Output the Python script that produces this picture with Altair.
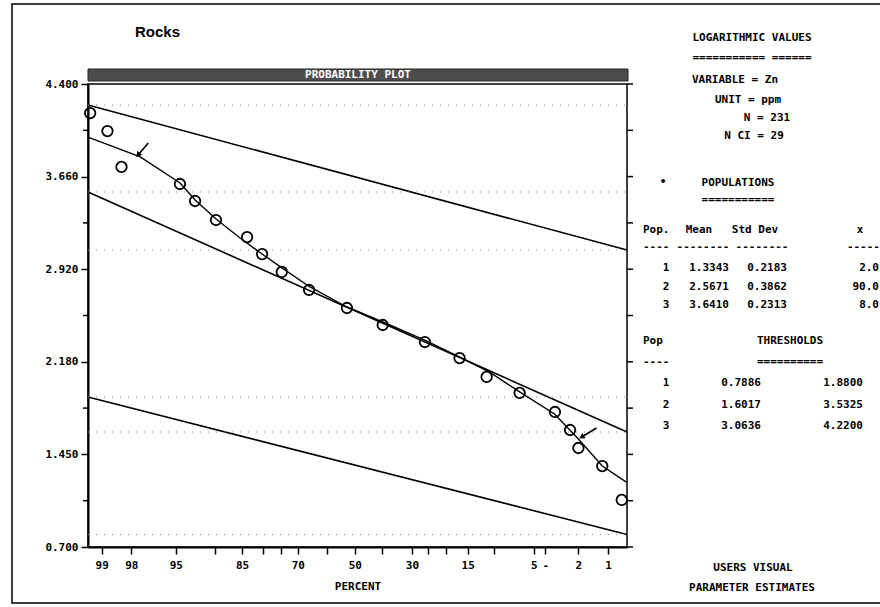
import altair as alt
import pandas as pd
from statistics import NormalDist

# ---------------- data ----------------
title_text = "Rocks"
header_text = "PROBABILITY PLOT"
x_title = "PERCENT"

# plotted sample points: cumulative percent, log value
point_pct = [99.25, 98.85, 98.40, 94.6, 92.9, 89.9, 83.9, 80.3, 74.9, 66.3, 52.9,
             39.9, 26.0, 16.8, 11.3, 6.5, 3.3, 2.4, 2.0, 1.15, 0.71]
point_val = [4.168, 4.024, 3.737, 3.601, 3.465, 3.313, 3.177, 3.041, 2.898, 2.754, 2.610,
             2.474, 2.338, 2.210, 2.059, 1.931, 1.779, 1.635, 1.491, 1.347, 1.076]

# fitted mixture curve
curve_pct = [99.29, 97.57, 94.59, 92.89, 89.89, 85.43, 80.32, 74.86, 66.02, 52.91,
             39.86, 26.04, 16.78, 10.77, 6.50, 3.33, 2.04, 1.15, 0.63]
curve_val = [3.976, 3.817, 3.609, 3.473, 3.321, 3.169, 3.041, 2.930, 2.778, 2.618,
             2.498, 2.354, 2.218, 2.098, 1.939, 1.763, 1.571, 1.347, 1.219]

# straight population lines (end points)
line_end_pct = [99.29, 0.62]
pop1_line = [1.899, 0.800]
pop2_line = [3.537, 1.619]
pop3_line = [4.232, 3.073]

# arrows marking thresholds
arrow_tail_pct = [97.12, 1.32]
arrow_tail_val = [3.929, 1.651]
arrow_head_pct = [97.68, 1.86]
arrow_head_val = [3.833, 1.579]

# axes
y_ticks = [0.70, 1.44, 2.18, 2.92, 3.66, 4.40]
y_labels = ["0.700", "1.450", "2.180", "2.920", "3.660", "4.400"]
y_minor_ticks = [1.07, 1.81, 2.55, 3.29, 4.03]
x_tick_pct = [99, 98, 95, 90, 85, 80, 75, 70, 60, 50, 40, 30, 25, 20, 15, 10, 5, 4, 2, 1]
x_label_pct = [99, 98, 95, 85, 70, 50, 30, 15, 5, 4, 2, 1]
x_label_text = ["99", "98", "95", "85", "70", "50", "30", "15", "5", "-", "2", "1"]
x_domain_pct = [99.29, 0.62]
y_domain = [0.70, 4.40]

# side panel
info_lines = ["LOGARITHMIC VALUES", "=========== ======", "VARIABLE = Zn", "UNIT = ppm",
              "N = 231", "N CI =  29", "POPULATIONS", "==========="]
pop_ids = ["1", "2", "3"]
pop_mean = ["1.3343", "2.5671", "3.6410"]
pop_sd = ["0.2183", "0.3862", "0.2313"]
pop_share = ["2.0", "90.0", "8.0"]
pop_header = ["Pop.", "Mean", "Std Dev", "x"]
pop_rule = ["----", "--------", "--------", "-----"]
thr_header = ["Pop", "THRESHOLDS"]
thr_rule = ["----", "=========="]
thr_low = ["0.7886", "1.6017", "3.0636"]
thr_high = ["1.8800", "3.5325", "4.2200"]
footer_lines = ["USERS VISUAL", "PARAMETER ESTIMATES"]

# ---------------- layout ----------------
W, H = 539, 463
PL, PT = 88, 84
MONO = "DejaVu Sans Mono"

nd = NormalDist()


def probit(p):
    return nd.inv_cdf(1 - p / 100.0)


x_scale = alt.Scale(domain=[probit(x_domain_pct[0]), probit(x_domain_pct[1])], nice=False, zero=False)
y_scale = alt.Scale(domain=y_domain, nice=False, zero=False)


def label_expr(vals, texts, tol):
    parts = [f"abs(datum.value - ({v:.6f})) < {tol} ? '{t}'" for v, t in zip(vals, texts)]
    return " : ".join(parts) + " : ''"


x_axis = alt.Axis(values=[probit(p) for p in x_tick_pct], tickCount=200,
                  labelExpr=label_expr([probit(p) for p in x_label_pct], x_label_text, 1e-4),
                  title=x_title, tickSize=7, tickWidth=1.5, domainWidth=2, domainColor="black",
                  tickColor="black", labelFont=MONO, labelFontWeight="bold", labelFontSize=11,
                  labelPadding=5, titleFont=MONO, titleFontWeight="bold", titleFontSize=11,
                  titlePadding=10, grid=False, labelColor="black", titleColor="black",
                  labelFlush=False, labelOverlap=False)
y_axis = alt.Axis(values=y_ticks, tickCount=200, labelExpr=label_expr(y_ticks, y_labels, 1e-4),
                  title=None, tickSize=7, tickWidth=1.5, domainWidth=2, domainColor="black",
                  tickColor="black", labelFont=MONO, labelFontWeight="bold", labelFontSize=11,
                  labelPadding=3, grid=False, labelColor="black", labelFlush=False,
                  labelOverlap=False)


def X(ax=None):
    return alt.X("z:Q", scale=x_scale, axis=ax) if ax is not None else alt.X("z:Q", scale=x_scale)


def Y(ax=None, field="val"):
    if ax is not None:
        return alt.Y(f"{field}:Q", scale=y_scale, axis=ax)
    return alt.Y(f"{field}:Q", scale=y_scale)


zcalc = "quantileNormal(1 - datum.pct / 100)"

one = pd.DataFrame({"k": [0]})

# frame and header bar
frame = alt.Chart(one).mark_rect(fill="white", fillOpacity=0, stroke="black", strokeWidth=1.5).encode(
    x=alt.value(-76), x2=alt.value(900), y=alt.value(-80), y2=alt.value(519))
bar = alt.Chart(one).mark_rect(fill="#4d4d4d", stroke="#222").encode(
    x=alt.value(0), x2=alt.value(540), y=alt.value(-15), y2=alt.value(-3))
bar_text = alt.Chart(pd.DataFrame({"t": [header_text]})).mark_text(
    font=MONO, fontWeight="bold", fontSize=11, color="white", align="center", baseline="middle").encode(
    text="t:N", x=alt.value(270), y=alt.value(-9))
title = alt.Chart(pd.DataFrame({"t": [title_text]})).mark_text(
    font="Liberation Sans", fontWeight="bold", fontSize=15, color="black", align="left",
    baseline="middle").encode(text="t:N", x=alt.value(47), y=alt.value(-52))

# population lines (carry the axes)
pops = pd.DataFrame({
    "pop": ["1", "1", "2", "2", "3", "3"],
    "pct": line_end_pct * 3,
    "val": pop1_line + pop2_line + pop3_line,
})
pop_lines = alt.Chart(pops).transform_calculate(z=zcalc).mark_line(
    color="black", strokeWidth=1.6).encode(x=X(x_axis), y=Y(y_axis), detail="pop:N")

# dotted guide levels at line end points
levels = pd.DataFrame({"val": pop1_line + pop2_line + pop3_line})
dots = alt.Chart(levels).mark_rule(color="#888", strokeDash=[1, 7], strokeWidth=1).encode(
    y=Y(), x=alt.value(0), x2=alt.value(W))

curve = alt.Chart(pd.DataFrame({"pct": curve_pct, "val": curve_val})).transform_calculate(
    z=zcalc).mark_line(color="black", strokeWidth=1.4).encode(x=X(), y=Y())

pts = alt.Chart(pd.DataFrame({"pct": point_pct, "val": point_val})).transform_calculate(
    z=zcalc).mark_point(shape="circle", size=110, filled=False, color="black", strokeWidth=1.8,
                        opacity=1).encode(x=X(), y=Y())

arr = pd.DataFrame({"pct": arrow_tail_pct, "val": arrow_tail_val,
                    "pct2": arrow_head_pct, "val2": arrow_head_val, "ang": [220, 239]})
arrow_lines = alt.Chart(arr).transform_calculate(
    z=zcalc, z2="quantileNormal(1 - datum.pct2 / 100)").mark_rule(
    color="black", strokeWidth=1.6).encode(x=X(), y=Y(), x2="z2:Q", y2="val2:Q")
arrow_heads = alt.Chart(arr).transform_calculate(
    z="quantileNormal(1 - datum.pct2 / 100)").mark_point(
    shape="triangle-up", size=40, filled=True, color="black", opacity=1).encode(
    x=X(), y=Y(field="val2"), angle=alt.Angle("ang:Q", scale=None))

# minor ticks (left) and right-hand axis ticks
left_minor = alt.Chart(pd.DataFrame({"val": y_minor_ticks})).mark_rule(
    color="black", strokeWidth=1.5).encode(y=Y(), x=alt.value(-5), x2=alt.value(0))
right_ticks = alt.Chart(pd.DataFrame({"val": y_ticks + y_minor_ticks})).mark_rule(
    color="black", strokeWidth=1.5).encode(y=Y(), x=alt.value(W), x2=alt.value(W + 6))

# ---------------- side panel text ----------------
rows = []
info_pos = [(752, 38), (752, 58), (735, 80), (748, 100), (767, 118), (754, 136), (738, 183), (738, 200)]
for t, (cx, cy) in zip(info_lines, info_pos):
    rows.append((t, cx, cy, "center"))
rows.append(("\u2022", 663, 182, "center"))
for t, (cx, al) in zip(pop_header, [(643, "left"), (699, "center"), (755, "center"), (860, "center")]):
    rows.append((t, cx, 230, al))
for t, (cx, al) in zip(pop_rule, [(643, "left"), (703, "center"), (762, "center"), (880, "right")]):
    rows.append((t, cx, 247, al))
for i, yy in enumerate([268, 287, 305]):
    rows.append((pop_ids[i], 666, yy, "center"))
    rows.append((pop_mean[i], 729, yy, "right"))
    rows.append((pop_sd[i], 787, yy, "right"))
    rows.append((pop_share[i], 879, yy, "right"))
rows.append((thr_header[0], 643, 341, "left"))
rows.append((thr_header[1], 790, 341, "center"))
rows.append((thr_rule[0], 643, 362, "left"))
rows.append((thr_rule[1], 790, 362, "center"))
for i, yy in enumerate([383, 405, 426]):
    rows.append((pop_ids[i], 666, yy, "center"))
    rows.append((thr_low[i], 761, yy, "right"))
    rows.append((thr_high[i], 863, yy, "right"))
rows.append((footer_lines[0], 753, 568, "center"))
rows.append((footer_lines[1], 752, 588, "center"))

panel = pd.DataFrame(rows, columns=["t", "px", "py", "al"])
panel["px"] = panel["px"] - PL
panel["py"] = panel["py"] - PT

text_layers = []
for al in ["left", "center", "right"]:
    sub = panel[panel["al"] == al]
    text_layers.append(
        alt.Chart(sub).mark_text(font=MONO, fontWeight="bold", fontSize=11, color="black",
                                 align=al, baseline="middle").encode(
            text="t:N",
            x=alt.X("px:Q", scale=None, axis=None), y=alt.Y("py:Q", scale=None, axis=None)))

chart = alt.layer(
    pop_lines, frame, bar, bar_text, title, dots, curve, pts, arrow_lines, arrow_heads,
    left_minor, right_ticks, *text_layers
).properties(
    width=W, height=H,
    autosize=alt.AutoSizeParams(type="none"),
    padding={"left": PL, "top": PT, "right": 880 - PL - W, "bottom": 607 - PT - H},
    background="white",
).configure_view(stroke="black", strokeWidth=1.5).configure_axis(grid=False)

chart.save("out.html", embed_options={"renderer": "svg", "actions": False})
